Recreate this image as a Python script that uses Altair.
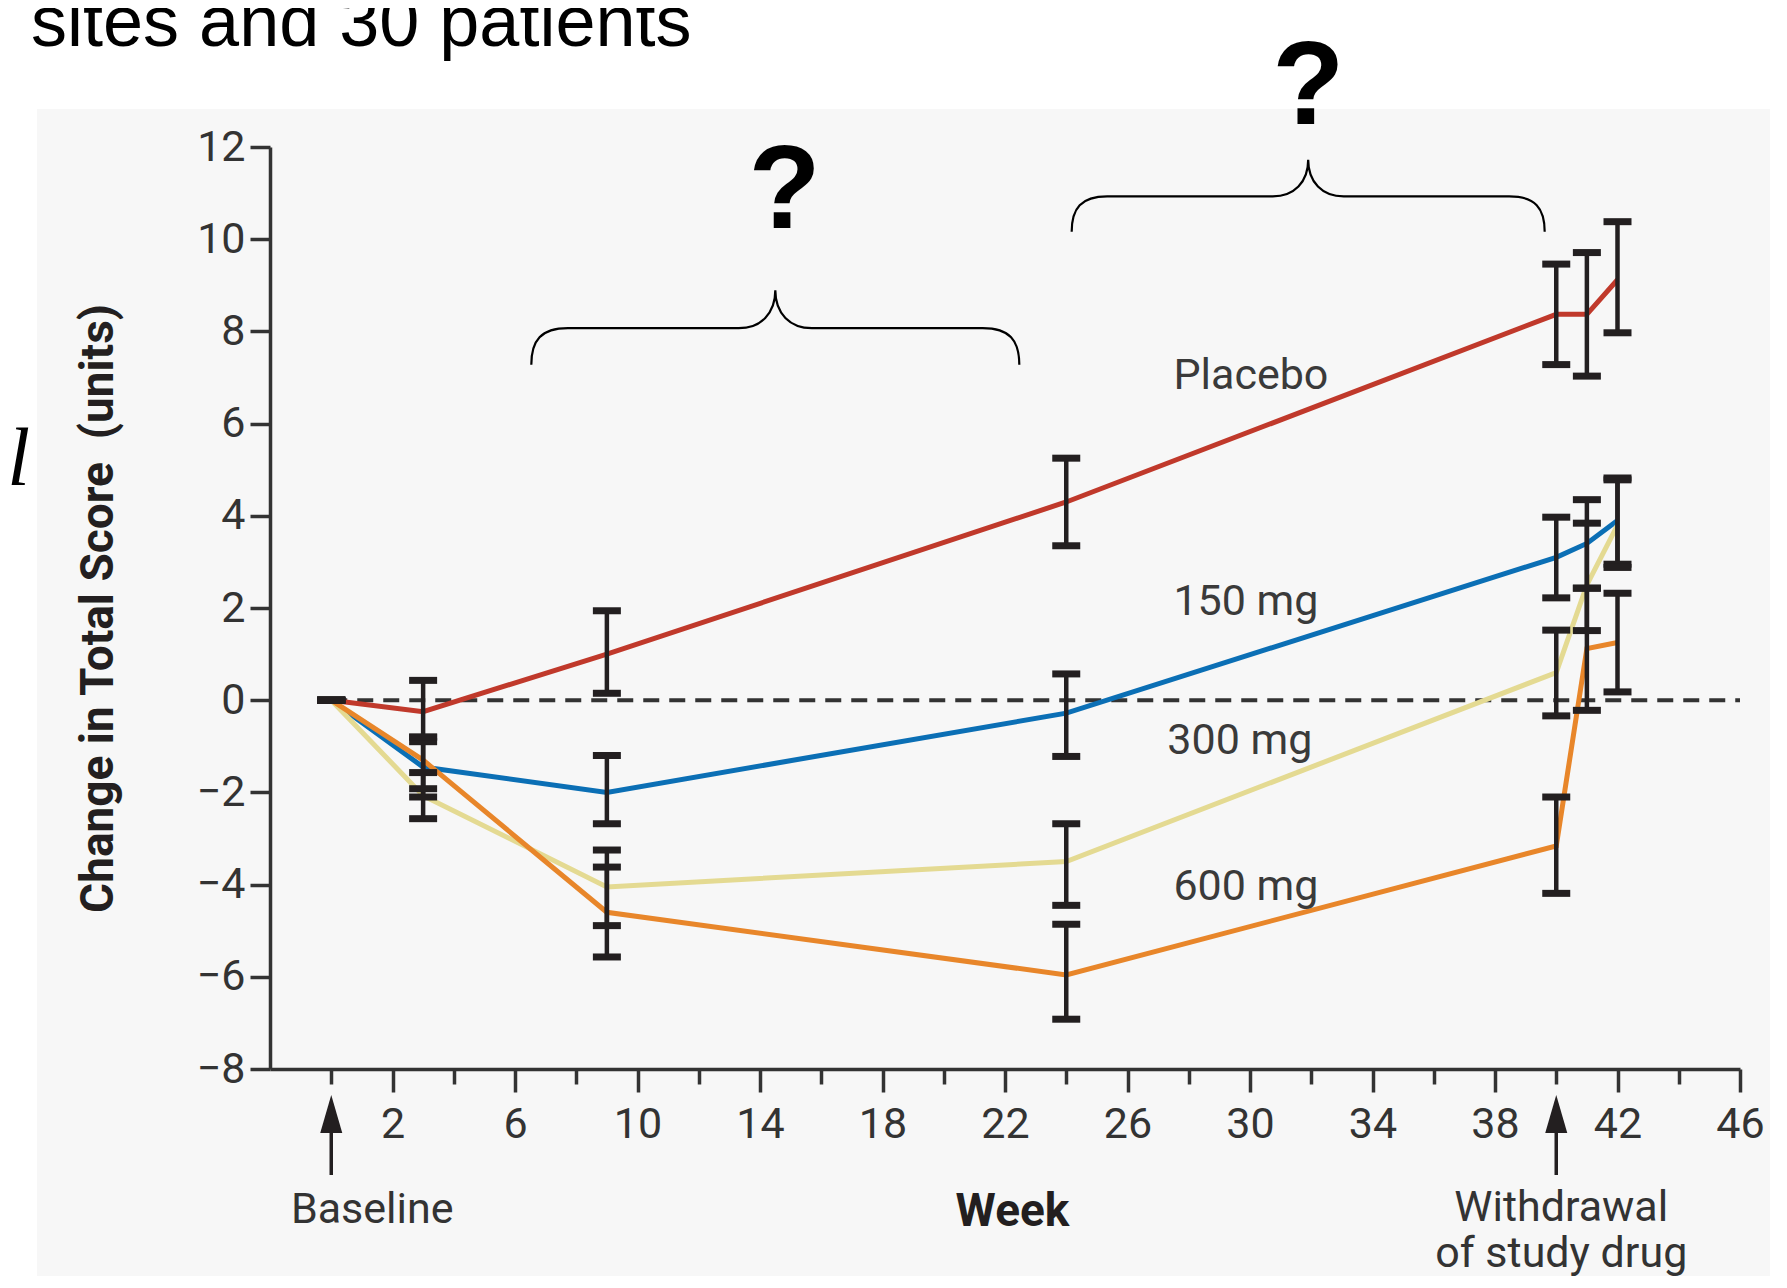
import altair as alt
import pandas as pd

# ---------------- data ----------------
weeks = [0, 3, 9, 24, 40, 41, 42]
groups = ["Placebo", "150 mg", "300 mg", "600 mg"]

placebo = [0, -0.25, 1.0, 4.3, 8.37, 8.37, 9.12]
placebo_lo = [0, -0.9, 0.15, 3.35, 7.28, 7.03, 7.97]
placebo_hi = [0, 0.43, 1.94, 5.25, 9.46, 9.71, 10.38]

mg150 = [0, -1.45, -2.0, -0.28, 3.1, 3.4, 3.9]
mg150_lo = [0, -2.1, -2.68, -1.22, 2.22, 2.43, 2.95]
mg150_hi = [0, -0.8, -1.2, 0.57, 3.97, 4.35, 4.82]

mg300 = [0, -2.07, -4.05, -3.5, 0.6, 2.5, 3.8]
mg300_lo = [0, -2.57, -4.89, -4.45, -0.34, 1.51, 2.88]
mg300_hi = [0, -1.57, -3.25, -2.68, 1.52, 3.84, 4.78]

mg600 = [0, -1.3, -4.6, -5.96, -3.16, 1.12, 1.25]
mg600_lo = [0, -1.92, -5.57, -6.92, -4.19, -0.22, 0.18]
mg600_hi = [0, -0.8, -3.62, -4.86, -2.1, 2.43, 2.32]

colors = ["#c0392b", "#0b6fb5", "#e4da92", "#e8862a"]

label_weeks = [27.5, 27.5, 27.3, 27.5]
label_values = [7.03, 2.13, -0.89, -4.06]

x_tick_weeks = list(range(0, 47))
y_ticks = list(range(-8, 13, 2))

# ---------------- tables ----------------
means = [placebo, mg150, mg300, mg600]
los = [placebo_lo, mg150_lo, mg300_lo, mg600_lo]
his = [placebo_hi, mg150_hi, mg300_hi, mg600_hi]
rows = []
for g, m, lo, hi in zip(groups, means, los, his):
    for w, v, l, h in zip(weeks, m, lo, hi):
        rows.append({"group": g, "week": w, "value": v, "lo": l, "hi": h})
df = pd.DataFrame(rows)
lab = pd.DataFrame({"group": groups, "week": label_weeks, "value": label_values})
one = pd.DataFrame({"k": [0]})

INK = "#231f20"
GREY = "#333333"
FONT = "Roboto"

xscale = alt.Scale(domain=[-2, 46], nice=False, zero=False)
yscale = alt.Scale(domain=[-8, 12], nice=False, zero=False)

xaxis = alt.Axis(
    values=x_tick_weeks,
    labelExpr="datum.value % 4 == 2 ? datum.label : ''",
    tickSize={"condition": {"test": "datum.value % 4 == 2", "value": 23}, "value": 15},
    tickWidth=3.5, tickColor=GREY, domainColor=GREY, domainWidth=3.5,
    labelFont=FONT, labelFontSize=43, labelColor=GREY, labelPadding=11,
    labelFlush=False, labelOverlap=False, grid=False, zindex=1,
    title="Week", titleFont=FONT, titleFontSize=46, titleFontWeight="bold",
    titleColor=INK, titleX=742, titleY=156, titleBaseline="alphabetic",
)
yaxis = alt.Axis(
    values=y_ticks, tickSize=20, tickWidth=3.5, tickColor=GREY,
    domainColor=GREY, domainWidth=3.5, zindex=1,
    labelFont=FONT, labelFontSize=43, labelColor=GREY, labelPadding=5, grid=False,
    title="Change in Total Score \u00a0(units)", titleFont=FONT, titleFontSize=46,
    titleFontWeight="bold", titleColor=INK, titleX=-172, titleY=461,
    titleAngle=270, titleBaseline="middle", titleAlign="center",
)

def X(f="week"):
    return alt.X(f"{f}:Q", scale=xscale, axis=xaxis)

def Y(f):
    return alt.Y(f"{f}:Q", scale=yscale, axis=yaxis)

color = alt.Color("group:N", scale=alt.Scale(domain=groups, range=colors), legend=None)

# background panel of the pasted figure
bg = alt.Chart(one).mark_rect(fill="#f7f7f7").encode(
    x=alt.value(-233), x2=alt.value(1540), y=alt.value(-38), y2=alt.value(1160)
)

zero = alt.Chart(one).mark_rule(color=GREY, strokeWidth=4, strokeDash=[16, 10]).encode(
    x=alt.datum(0), x2=alt.datum(46), y=alt.datum(0)
)

lines = alt.Chart(df).mark_line(strokeWidth=5).encode(
    x=X(), y=Y("value"), color=color, order="week:Q", detail="group:N"
)

bars = alt.Chart(df).mark_rule(color=INK, strokeWidth=4.5).encode(
    x=X(), y=Y("lo"), y2="hi:Q"
)
caps_lo = alt.Chart(df).mark_tick(orient="horizontal", size=28, thickness=7, color=INK, opacity=1).encode(
    x=X(), y=Y("lo")
)
caps_hi = alt.Chart(df).mark_tick(orient="horizontal", size=28, thickness=7, color=INK, opacity=1).encode(
    x=X(), y=Y("hi")
)

labels = alt.Chart(lab).mark_text(
    align="left", baseline="middle", font=FONT, fontSize=43, color="#3a3a3a"
).encode(x=X(), y=Y("value"), text="group:N")

BRACE = ("M -1 0.15 C -1 0.05 -0.96 0 -0.85 0 L -0.15 0 C -0.06 0 0 -0.06 0 -0.155 "
         "C 0 -0.06 0.06 0 0.15 0 L 0.85 0 C 0.96 0 1 0.05 1 0.15")
brace1 = alt.Chart(one).mark_point(shape=BRACE, size=238144, filled=False, stroke="black",
                                   strokeWidth=2.2, opacity=1).encode(
    x=alt.datum(14.5), y=alt.datum(8.07))
brace2 = alt.Chart(one).mark_point(shape=BRACE, size=223729, filled=False, stroke="black",
                                   strokeWidth=2.2, opacity=1).encode(
    x=alt.datum(31.9), y=alt.datum(10.93))
q1 = alt.Chart(one).mark_text(text="?", font="Liberation Sans", fontWeight="bold", fontSize=118,
                              align="center", baseline="alphabetic", color="black").encode(
    x=alt.datum(14.8), y=alt.datum(10.24))
q2 = alt.Chart(one).mark_text(text="?", font="Liberation Sans", fontWeight="bold", fontSize=118,
                              align="center", baseline="alphabetic", color="black").encode(
    x=alt.datum(31.9), y=alt.datum(12.5))

ARROW = "M 0 -1 L 0.58 1 L -0.58 1 Z"
arrow_stems = alt.Chart(pd.DataFrame({"week": [0, 40]})).mark_rule(color=INK, strokeWidth=3.5).encode(
    x=X(), y=alt.value(967), y2=alt.value(1028))
arrow_heads = alt.Chart(pd.DataFrame({"week": [0, 40]})).mark_point(
    shape=ARROW, size=1444, filled=True, color=INK, opacity=1).encode(
    x=X(), y=alt.value(967))
base_txt = alt.Chart(pd.DataFrame({"week": [0]})).mark_text(
    text="Baseline", font=FONT, fontSize=43, color=GREY, align="center",
    baseline="alphabetic", dx=41).encode(x=X(), y=alt.value(1076))
wd_txt = alt.Chart(pd.DataFrame({"week": [40]})).mark_text(
    text="Withdrawal\nof study drug", lineBreak="\n", lineHeight=46, font=FONT,
    fontSize=43, color=GREY, align="center", baseline="alphabetic", dx=5).encode(
    x=X(), y=alt.value(1074))

# slide text around the pasted figure
slide_title = alt.Chart(one).mark_text(
    text="3 sites and 30 patients", font="Liberation Sans", fontSize=72, color="black",
    align="left", baseline="alphabetic").encode(x=alt.value(-299), y=alt.value(-101))
slide_l = alt.Chart(one).mark_text(
    text="l", font="Liberation Serif", fontStyle="italic", fontSize=82, color="black",
    align="right", baseline="alphabetic").encode(x=alt.value(-240), y=alt.value(338))

chart = alt.layer(
    bg, zero, lines, bars, caps_lo, caps_hi, labels, brace1, brace2, q1, q2,
    arrow_stems, arrow_heads, base_txt, wd_txt, slide_title, slide_l
).properties(
    width=1470, height=922,
    padding={"left": 262, "top": 139, "right": 30, "bottom": 207},
    autosize=alt.AutoSizeParams(type="none"),
    background="white",
).configure_view(stroke=None)

chart.save("out.html", embed_options={"renderer": "svg", "actions": False})
